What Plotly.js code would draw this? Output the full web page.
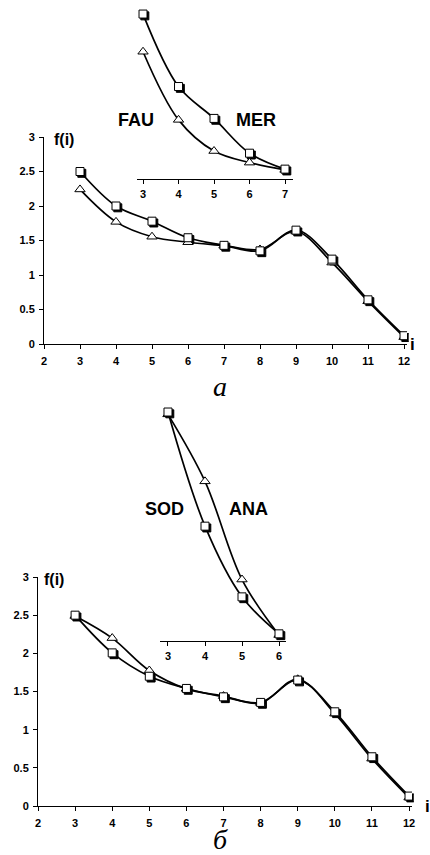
<!DOCTYPE html>
<html>
<head>
<meta charset="utf-8">
<script src="https://cdn.plot.ly/plotly-3.0.1.min.js"></script>
<style>
html,body{margin:0;padding:0;background:#fff;}
#chart{width:430px;height:855px;}
</style>
</head>
<body>
<div id="chart"></div>
<script>
// ---- data ----
const iVals = [3, 4, 5, 6, 7, 8, 9, 10, 11, 12];
// panel a
const merA = [2.5, 2.0, 1.78, 1.54, 1.43, 1.35, 1.65, 1.23, 0.64, 0.12];   // squares
const fauA = [2.24, 1.77, 1.555, 1.475, 1.425, 1.37, 1.63, 1.18, 0.62, 0.10]; // triangles
// panel б
const sodB = [2.5, 2.006, 1.70, 1.54, 1.43, 1.357, 1.65, 1.234, 0.645, 0.13]; // squares
const anaB = [2.49, 2.2, 1.775, 1.535, 1.44, 1.35, 1.66, 1.21, 0.62, 0.11];   // triangles
const insetMaxA = 7;
const insetMaxB = 6;
const xTicksMain = [2, 3, 4, 5, 6, 7, 8, 9, 10, 11, 12];
const yTicksMain = [0, 0.5, 1, 1.5, 2, 2.5, 3];

// ---- geometry helpers (pixel -> paper) ----
const W = 430, H = 855;
const xd = (a, b) => [a / W, b / W];
const yd = (top, bottom) => [1 - bottom / H, 1 - top / H];
const SH = 1.8; // shadow offset px

function sub(arr, maxI) { return arr.filter((v, k) => iVals[k] <= maxI); }
const iA = iVals.filter(v => v <= insetMaxA);
const iB = iVals.filter(v => v <= insetMaxB);

const lineStyle = {color: '#000', width: 1.7, shape: 'spline', smoothing: 1};
const sqMarker = {symbol: 'square', size: 8, color: '#fff', line: {color: '#000', width: 1}};
const triMarker = {symbol: 'triangle-up', size: 9, color: '#fff', line: {color: '#000', width: 1}};
const shadowMarker = {symbol: 'square', size: 8, color: '#000', line: {color: '#000', width: 1}};

// shadow subplots: x/y .. x4/y4 (drawn first); visible subplots: x5/y5 .. x8/y8
function shadow(x, yS, xs, ys) {
  return [{x: x, y: yS, xaxis: xs, yaxis: ys, mode: 'markers', marker: shadowMarker, hoverinfo: 'skip'}];
}
function series(x, yS, yT, xa, ya) {
  return [
    {x: x, y: yT, xaxis: xa, yaxis: ya, mode: 'lines', line: lineStyle, hoverinfo: 'skip'},
    {x: x, y: yS, xaxis: xa, yaxis: ya, mode: 'lines', line: lineStyle, hoverinfo: 'skip'},
    {x: x, y: yT, xaxis: xa, yaxis: ya, mode: 'markers', marker: triMarker, hoverinfo: 'skip'},
    {x: x, y: yS, xaxis: xa, yaxis: ya, mode: 'markers', marker: sqMarker, hoverinfo: 'skip'}
  ];
}

const data = [].concat(
  shadow(iVals, merA, 'x', 'y'),
  shadow(iA, sub(merA, insetMaxA), 'x2', 'y2'),
  shadow(iVals, sodB, 'x3', 'y3'),
  shadow(iB, sub(sodB, insetMaxB), 'x4', 'y4'),
  series(iVals, merA, fauA, 'x5', 'y5'),
  series(iA, sub(merA, insetMaxA), sub(fauA, insetMaxA), 'x6', 'y6'),
  series(iVals, sodB, anaB, 'x7', 'y7'),
  series(iB, sub(sodB, insetMaxB), sub(anaB, insetMaxB), 'x8', 'y8')
);

const tickFont = {family: 'Liberation Sans, Arial, sans-serif', size: 11, color: '#000', weight: 'bold'};

function mainX(dom, anchor) {
  return {domain: dom, anchor: anchor, range: [2, 12.08], tickvals: xTicksMain, showline: true,
    linecolor: '#000', linewidth: 1, ticks: 'outside', ticklen: 4, tickcolor: '#000',
    showgrid: false, zeroline: false, tickfont: tickFont, ticklabelstandoff: 3, fixedrange: true};
}
function mainY(dom, anchor) {
  return {domain: dom, anchor: anchor, range: [0, 3], tickvals: yTicksMain, showline: true,
    linecolor: '#000', linewidth: 1, ticks: 'outside', ticklen: 4, tickcolor: '#000',
    showgrid: false, zeroline: false, tickfont: tickFont, ticklabelstandoff: 2, fixedrange: true};
}
function insetX(dom, anchor, rng) {
  return {domain: dom, anchor: anchor, range: rng, dtick: 1, tick0: 0, showline: true,
    linecolor: '#000', linewidth: 1, ticks: 'outside', ticklen: 4, tickcolor: '#000',
    showgrid: false, zeroline: false, tickfont: tickFont, ticklabelstandoff: 1, fixedrange: true};
}
function insetY(dom, anchor, rng) {
  return {domain: dom, anchor: anchor, range: rng, visible: false, showgrid: false, zeroline: false, fixedrange: true};
}
function hidden(base) {
  const o = Object.assign({}, base);
  o.visible = false;
  return o;
}

// pixel geometry
const aMainX = xd(44, 406.9), aMainY = yd(137, 344);
const aInsX = xd(137, 293), aInsY = yd(0, 179);
const bMainX = xd(38, 412), bMainY = yd(577, 806);
const bInsX = xd(160, 286), bInsY = yd(400, 641);
const aInsR = [2.83, 7.225], aInsYR = [1.362, 2.597];
const bInsR = [2.784, 6.189], bInsYR = [1.509, 2.552];

const shX = d => [d[0] + SH / W, d[1] + SH / W];
const shY = d => [d[0] - SH / H, d[1] - SH / H];

const lab = (size, weight) => ({family: 'Liberation Sans, Arial, sans-serif', size: size, weight: weight, color: '#000'});
const serif = {family: 'Liberation Serif, Times New Roman, serif', size: 28, color: '#000'};
function note(text, px, py, xanchor, font) {
  return {text: text, xref: 'paper', yref: 'paper', x: px / W, y: 1 - py / H, xanchor: xanchor,
    yanchor: 'middle', showarrow: false, font: font};
}

const layout = {
  width: W, height: H, margin: {l: 0, r: 0, t: 0, b: 0},
  paper_bgcolor: '#fff', plot_bgcolor: 'rgba(0,0,0,0)', showlegend: false,
  xaxis: hidden(mainX(shX(aMainX), 'y')), yaxis: hidden(mainY(shY(aMainY), 'x')),
  xaxis2: hidden(insetX(shX(aInsX), 'y2', aInsR)), yaxis2: insetY(shY(aInsY), 'x2', aInsYR),
  xaxis3: hidden(mainX(shX(bMainX), 'y3')), yaxis3: hidden(mainY(shY(bMainY), 'x3')),
  xaxis4: hidden(insetX(shX(bInsX), 'y4', bInsR)), yaxis4: insetY(shY(bInsY), 'x4', bInsYR),
  xaxis5: mainX(aMainX, 'y5'), yaxis5: mainY(aMainY, 'x5'),
  xaxis6: insetX(aInsX, 'y6', aInsR), yaxis6: insetY(aInsY, 'x6', aInsYR),
  xaxis7: mainX(bMainX, 'y7'), yaxis7: mainY(bMainY, 'x7'),
  xaxis8: insetX(bInsX, 'y8', bInsR), yaxis8: insetY(bInsY, 'x8', bInsYR),
  annotations: [
    note('f(i)', 52, 139, 'left', lab(16, 'bold')),
    note('i', 412, 344, 'center', lab(17, 'bold')),
    note('FAU', 136, 120, 'center', lab(18, 'bold')),
    note('MER', 256, 120, 'center', lab(18, 'bold')),
    note('<i>a</i>', 220, 386, 'center', serif),
    note('f(i)', 42, 579, 'left', lab(16, 'bold')),
    note('i', 427, 806, 'center', lab(17, 'bold')),
    note('SOD', 164, 509, 'center', lab(18, 'bold')),
    note('ANA', 248, 509, 'center', lab(18, 'bold')),
    note('<i>б</i>', 220, 839, 'center', serif)
  ]
};

Plotly.newPlot('chart', data, layout, {staticPlot: true, displayModeBar: false});
</script>
</body>
</html>
